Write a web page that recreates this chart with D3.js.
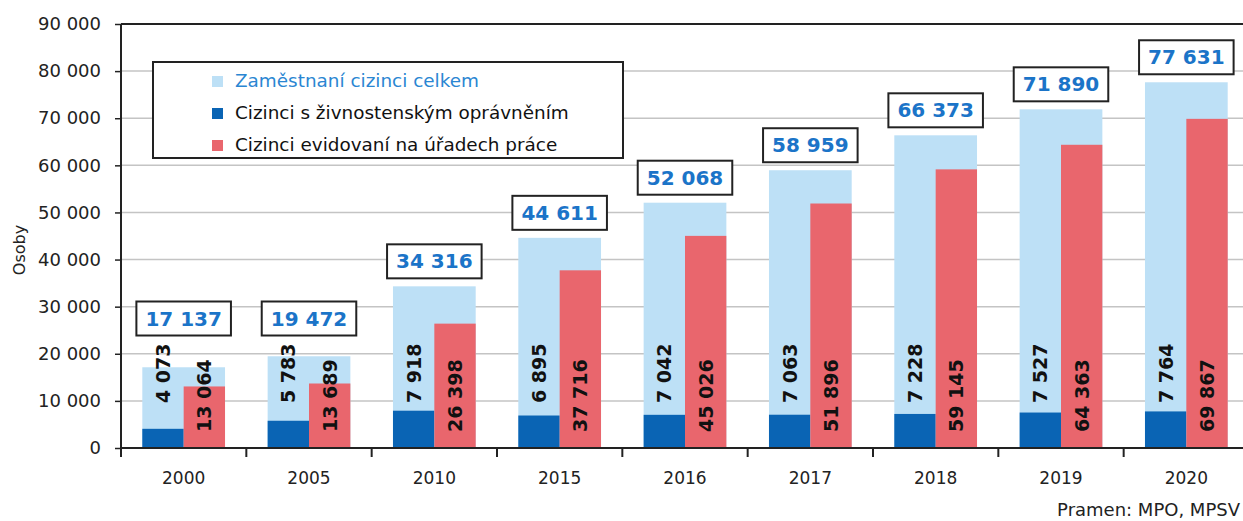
<!DOCTYPE html>
<html>
<head>
<meta charset="utf-8">
<script src="https://cdn.jsdelivr.net/npm/d3@7"></script>
<style>
    body { margin: 0; background: #fff; }
    svg { display: block; font-family: "DejaVu Sans", Verdana, sans-serif; }
</style>
</head>
<body>
<div id="chart"></div>
<script>
const years = ["2000", "2005", "2010", "2015", "2016", "2017", "2018", "2019", "2020"];
const totalWorkers = [17137, 19472, 34316, 44611, 52068, 58959, 66373, 71890, 77631];
const tradeLicence = [4073, 5783, 7918, 6895, 7042, 7063, 7228, 7527, 7764];
const labourOffice = [13064, 13689, 26398, 37716, 45026, 51896, 59145, 64363, 69867];
const yTicks = [0, 10000, 20000, 30000, 40000, 50000, 60000, 70000, 80000, 90000];
const legendLabels = ["Zaměstnaní cizinci celkem", "Cizinci s živnostenským oprávněním", "Cizinci evidovaní na úřadech práce"];

const colors = {light: "#bde0f6", dark: "#0a64b4", red: "#e9666d"};

const width = 1243, height = 521;
const margin = {top: 24, left: 121, bottom: 73};
const plotRight = 1249;
const y0 = height - margin.bottom;

const fmt = v => d3.format(",")(v).replace(/,/g, " ");

const svg = d3.select("#chart")
    .append("svg")
    .attr("width", width)
    .attr("height", height);

const y = d3.scaleLinear()
    .domain([0, 90000])
    .range([y0, margin.top]);

const x = d3.scaleBand()
    .domain(years)
    .range([margin.left, plotRight])
    .paddingInner(0.34)
    .paddingOuter(0.17);

const data = years.map((yr, i) => ({
    year: yr,
    total: totalWorkers[i],
    trade: tradeLicence[i],
    office: labourOffice[i]
}));

// gridlines
svg.append("g")
    .selectAll("line")
    .data(yTicks.filter(d => d > 0 && d < 90000))
    .enter()
    .append("line")
    .attr("x1", margin.left)
    .attr("x2", width)
    .attr("y1", d => y(d))
    .attr("y2", d => y(d))
    .attr("stroke", "#c4c4c4")
    .attr("stroke-width", 1.5);

// top frame line
svg.append("line")
    .attr("x1", margin.left).attr("x2", width)
    .attr("y1", y(90000)).attr("y2", y(90000))
    .attr("stroke", "#222").attr("stroke-width", 2);

// bars
const bw = x.bandwidth();
const groups = svg.append("g")
    .selectAll("g")
    .data(data)
    .enter()
    .append("g");

groups.append("rect")
    .attr("x", d => x(d.year))
    .attr("width", bw)
    .attr("y", d => y(d.total))
    .attr("height", d => y0 - y(d.total))
    .attr("fill", colors.light);

groups.append("rect")
    .attr("x", d => x(d.year))
    .attr("width", bw / 2)
    .attr("y", d => y(d.trade))
    .attr("height", d => y0 - y(d.trade))
    .attr("fill", colors.dark);

groups.append("rect")
    .attr("x", d => x(d.year) + bw / 2)
    .attr("width", bw / 2)
    .attr("y", d => y(d.office))
    .attr("height", d => y0 - y(d.office))
    .attr("fill", colors.red);

// rotated inner labels
const tradeStart = y0 - 45;
const officeStart = y0 - 16;

groups.append("text")
    .attr("transform", d => "translate(" + (x(d.year) + bw / 4 + 7) + "," + tradeStart + ") rotate(-90)")
    .attr("font-size", 19)
    .attr("font-weight", "bold")
    .attr("fill", "#111")
    .text(d => fmt(d.trade));

groups.append("text")
    .attr("transform", d => "translate(" + (x(d.year) + bw * 3 / 4 + 7) + "," + officeStart + ") rotate(-90)")
    .attr("font-size", 19)
    .attr("font-weight", "bold")
    .attr("fill", "#111")
    .text(d => fmt(d.office));

// total labels in boxes
groups.each(function(d) {
    const g = d3.select(this);
    const labelTop = tradeStart - g.select("text").node().getComputedTextLength();
    const bottom = Math.min(y(d.total), labelTop) - 8;
    const cx = x(d.year) + bw / 2;
    const t = g.append("text")
        .attr("x", cx)
        .attr("y", bottom - 10)
        .attr("text-anchor", "middle")
        .attr("font-size", 20)
        .attr("font-weight", "bold")
        .attr("fill", "#1b74c8")
        .text(fmt(d.total));
    const tw = t.node().getComputedTextLength();
    g.insert("rect", function() { return t.node(); })
        .attr("x", cx - tw / 2 - 9)
        .attr("y", bottom - 34)
        .attr("width", tw + 18)
        .attr("height", 34)
        .attr("fill", "#fff")
        .attr("stroke", "#222")
        .attr("stroke-width", 2);
});

// y axis
const yAxis = svg.append("g")
    .attr("transform", "translate(" + margin.left + ",0)")
    .call(d3.axisLeft(y).tickValues(yTicks).tickSize(6).tickPadding(14).tickFormat(fmt));
yAxis.select(".domain").attr("stroke", "#222").attr("stroke-width", 2)
    .attr("d", "M0," + (y0 + 9) + "V" + margin.top);
yAxis.selectAll(".tick line").attr("stroke", "#222").attr("stroke-width", 1.5);
yAxis.selectAll("text")
    .attr("font-size", 18)
    .attr("font-family", "DejaVu Sans, sans-serif")
    .attr("fill", "#222");

// x axis
svg.append("line")
    .attr("x1", margin.left).attr("x2", width)
    .attr("y1", y0).attr("y2", y0)
    .attr("stroke", "#222").attr("stroke-width", 2);

svg.append("g")
    .selectAll("line")
    .data(years.slice(1))
    .enter()
    .append("line")
    .attr("x1", d => x(d) - x.step() * x.paddingInner() / 2)
    .attr("x2", d => x(d) - x.step() * x.paddingInner() / 2)
    .attr("y1", y0)
    .attr("y2", y0 + 9)
    .attr("stroke", "#222")
    .attr("stroke-width", 2);

svg.append("g")
    .selectAll("text")
    .data(years)
    .enter()
    .append("text")
    .attr("x", d => x(d) + bw / 2)
    .attr("y", y0 + 36)
    .attr("text-anchor", "middle")
    .attr("font-size", 17)
    .attr("fill", "#222")
    .text(d => d);

// y axis title
svg.append("text")
    .attr("transform", "translate(25,250) rotate(-90)")
    .attr("text-anchor", "middle")
    .attr("font-size", 16)
    .attr("fill", "#222")
    .text("Osoby");

// legend
const legend = svg.append("g");
legend.append("rect")
    .attr("x", 153).attr("y", 62)
    .attr("width", 470).attr("height", 96)
    .attr("fill", "#fff")
    .attr("stroke", "#222")
    .attr("stroke-width", 2);

const legendColors = [colors.light, colors.dark, colors.red];
legendLabels.forEach((lbl, i) => {
    const cy = 81 + i * 32;
    legend.append("rect")
        .attr("x", 212).attr("y", cy - 5)
        .attr("width", 11).attr("height", 11)
        .attr("fill", legendColors[i]);
    legend.append("text")
        .attr("x", 235).attr("y", cy + 6)
        .attr("font-size", 18.4)
        .attr("fill", i === 0 ? "#2a86d2" : "#111")
        .text(lbl);
});

// source (kept fully inside the frame)
svg.append("text")
    .attr("x", 1240)
    .attr("y", 516)
    .attr("text-anchor", "end")
    .attr("font-size", 18)
    .attr("fill", "#222")
    .text("Pramen: MPO, MPSV");
</script>
</body>
</html>
